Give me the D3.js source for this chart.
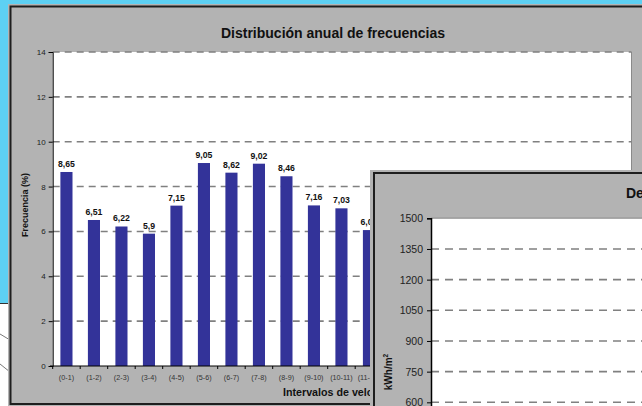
<!DOCTYPE html>
<html>
<head>
<meta charset="utf-8">
<script src="https://cdn.jsdelivr.net/npm/d3@7"></script>
<style>
  html, body { margin: 0; padding: 0; background: #5dd0f3; overflow: hidden; }
  svg { display: block; font-family: "Liberation Sans", Arial, sans-serif; }
</style>
</head>
<body>
<div id="chart"></div>
<script>
// chart 1 data
var intervals = ['(0-1)','(1-2)','(2-3)','(3-4)','(4-5)','(5-6)','(6-7)','(7-8)','(8-9)','(9-10)','(10-11)','(11-12)',
                 '(12-13)','(13-14)','(14-15)','(15-16)','(16-17)','(17-18)','(18-19)','(19-20)','(20-21)'];
var frecuencias = [8.65, 6.51, 6.22, 5.9, 7.15, 9.05, 8.62, 9.02, 8.46, 7.16, 7.03, 6.06,
                   5.2, 4.3, 3.4, 2.6, 1.9, 1.3, 0.8, 0.5, 0.3];
var freqTicks = [0, 2, 4, 6, 8, 10, 12, 14];

// chart 2 (mostly covered) axis
var energyTicks = [600, 750, 900, 1050, 1200, 1350, 1500];

var W = 642, H = 406;
var barColor = '#333399';
var frameGray = '#b3b3b3';
var gridGray = '#808080';
var front = { x: 370, y: 170 };   // where the second chart starts covering the first

var svg = d3.select('#chart').append('svg')
    .attr('width', W)
    .attr('height', H);

// background
svg.append('rect').attr('width', W).attr('height', H).attr('fill', '#5dd0f3');
svg.append('rect').attr('x', 0).attr('y', 303).attr('width', 10).attr('height', H - 303).attr('fill', '#ffffff');
svg.append('line').attr('x1', 0).attr('x2', 10).attr('y1', 303.5).attr('y2', 303.5).attr('stroke', '#333').attr('stroke-width', 1);
svg.append('line').attr('x1', 0).attr('x2', 10).attr('y1', 334).attr('y2', 340).attr('stroke', '#555').attr('stroke-width', 0.8);
svg.append('line').attr('x1', 0).attr('x2', 10).attr('y1', 364).attr('y2', 372).attr('stroke', '#555').attr('stroke-width', 0.8);

// ---------- chart 1 ----------
var c1 = svg.append('g');
c1.append('rect').attr('x', 8).attr('y', 4).attr('width', W).attr('height', H).attr('fill', frameGray);
c1.append('rect').attr('x', 10.5).attr('y', 6.5).attr('width', W + 20).attr('height', 397.5)
    .attr('fill', 'none').attr('stroke', '#1e1e1e').attr('stroke-width', 2);

var x = d3.scaleBand()
    .domain(intervals)
    .range([52.7, 630.2])
    .paddingInner(0.56)
    .paddingOuter(0.28);

var y = d3.scaleLinear()
    .domain([0, 14])
    .range([366, 52]);

// plot area
c1.append('rect').attr('x', 52.7).attr('y', y(14)).attr('width', 631.5 - 52.7).attr('height', y(0) - y(14))
    .attr('fill', '#ffffff');
c1.append('line').attr('x1', 631.5).attr('x2', 631.5).attr('y1', y(14)).attr('y2', y(0))
    .attr('stroke', '#8a8a8a').attr('stroke-width', 1);

// gridlines
c1.append('g').selectAll('line')
    .data(freqTicks.filter(function(d){ return d > 0; }))
    .enter().append('line')
    .attr('x1', 52.7).attr('x2', 631.5)
    .attr('y1', function(d){ return y(d); })
    .attr('y2', function(d){ return y(d); })
    .attr('stroke', gridGray)
    .attr('stroke-width', 1.6)
    .attr('stroke-dasharray', '7,5');

// bars
c1.append('g').selectAll('rect')
    .data(frecuencias)
    .enter().append('rect')
    .attr('x', function(d, i){ return x(intervals[i]); })
    .attr('y', function(d){ return y(d); })
    .attr('width', x.bandwidth())
    .attr('height', function(d){ return y(0) - y(d); })
    .attr('fill', barColor);

// value labels (the ones fully hidden behind chart 2 are left out)
var shown = intervals.filter(function(d){ return x(d) - 8 < front.x; });
c1.append('g').selectAll('text')
    .data(shown)
    .enter().append('text')
    .attr('x', function(d){ return x(d) + x.bandwidth() / 2; })
    .attr('y', function(d, i){ return y(frecuencias[i]) - 5; })
    .attr('text-anchor', 'middle')
    .attr('font-size', '8.7px')
    .attr('font-weight', 'bold')
    .attr('fill', '#111')
    .text(function(d, i){ return String(frecuencias[i]).replace('.', ','); });

// y axis
var yAxis = d3.axisLeft(y).tickValues(freqTicks).tickSize(4).tickPadding(3);
var gy = c1.append('g').attr('transform', 'translate(52.7,0)').call(yAxis);
gy.select('.domain').attr('stroke', '#000');
gy.selectAll('.tick line').attr('stroke', '#000');
gy.selectAll('text').attr('font-size', '8px').attr('fill', '#222').attr('font-family', null);

// x axis with ticks on category boundaries
var step = x.step();
c1.append('line').attr('x1', 50).attr('x2', 631.5).attr('y1', y(0)).attr('y2', y(0))
    .attr('stroke', '#000').attr('stroke-width', 1);
c1.append('g').selectAll('line')
    .data(intervals)
    .enter().append('line')
    .attr('x1', function(d){ return x(d) - x.paddingInner() * step / 2; })
    .attr('x2', function(d){ return x(d) - x.paddingInner() * step / 2; })
    .attr('y1', y(0)).attr('y2', y(0) + 3)
    .attr('stroke', '#000');
c1.append('g').selectAll('text')
    .data(shown)
    .enter().append('text')
    .attr('x', function(d){ return x(d) + x.bandwidth() / 2; })
    .attr('y', 379.5)
    .attr('text-anchor', 'middle')
    .attr('font-size', '7.2px')
    .attr('fill', '#333')
    .text(function(d){ return d; });

// titles
c1.append('text')
    .attr('x', 333).attr('y', 38)
    .attr('text-anchor', 'middle')
    .attr('font-size', '14px').attr('font-weight', 'bold').attr('fill', '#111')
    .text('Distribución anual de frecuencias');
c1.append('text')
    .attr('transform', 'translate(27.5,205) rotate(-90)')
    .attr('text-anchor', 'middle')
    .attr('font-size', '9px').attr('font-weight', 'bold').attr('fill', '#111')
    .text('Frecuencia (%)');
c1.append('text')
    .attr('x', 283).attr('y', 396)
    .attr('font-size', '10.7px').attr('font-weight', 'bold').attr('fill', '#111')
    .text('Intervalos de velocidad (m/s)');

// ---------- chart 2 (front, partly outside the window) ----------
var c2 = svg.append('g');
c2.append('rect').attr('x', front.x).attr('y', front.y).attr('width', 300).attr('height', 260).attr('fill', frameGray);
c2.append('rect').attr('x', 374).attr('y', 173).attr('width', 300).attr('height', 260)
    .attr('fill', 'none').attr('stroke', '#1e1e1e').attr('stroke-width', 2);

var y2 = d3.scaleLinear()
    .domain([0, 1500])
    .range([525, 218.3]);

c2.append('rect').attr('x', 431).attr('y', y2(1500)).attr('width', 250).attr('height', 300).attr('fill', '#ffffff');

c2.append('g').selectAll('line')
    .data(energyTicks)
    .enter().append('line')
    .attr('x1', 431).attr('x2', W)
    .attr('y1', function(d){ return y2(d); })
    .attr('y2', function(d){ return y2(d); })
    .attr('stroke', gridGray)
    .attr('stroke-width', 1.6)
    .attr('stroke-dasharray', function(d){ return d === 1500 ? null : '8,6'; })
    .attr('stroke-opacity', function(d){ return d === 1500 ? 0.6 : 1; });

var y2Axis = d3.axisLeft(y2).tickValues(energyTicks).tickFormat(d3.format('d')).tickSize(4).tickPadding(4);
var gy2 = c2.append('g').attr('transform', 'translate(431,0)').call(y2Axis);
gy2.select('.domain').attr('stroke', '#000').attr('stroke-width', 1.5);
gy2.selectAll('.tick line').attr('stroke', '#000');
gy2.selectAll('text').attr('font-size', '10.5px').attr('fill', '#222').attr('font-family', null);

c2.append('text')
    .attr('x', 626).attr('y', 198)
    .attr('font-size', '14px').attr('font-weight', 'bold').attr('fill', '#111')
    .text('Densidad de energía anual');

var kl = c2.append('text')
    .attr('transform', 'translate(392,372) rotate(-90)')
    .attr('text-anchor', 'middle')
    .attr('font-size', '10px').attr('font-weight', 'bold').attr('fill', '#111');
kl.append('tspan').text('kWh/m');
kl.append('tspan').attr('dy', -4).attr('font-size', '6.5px').text('2');
</script>
</body>
</html>
